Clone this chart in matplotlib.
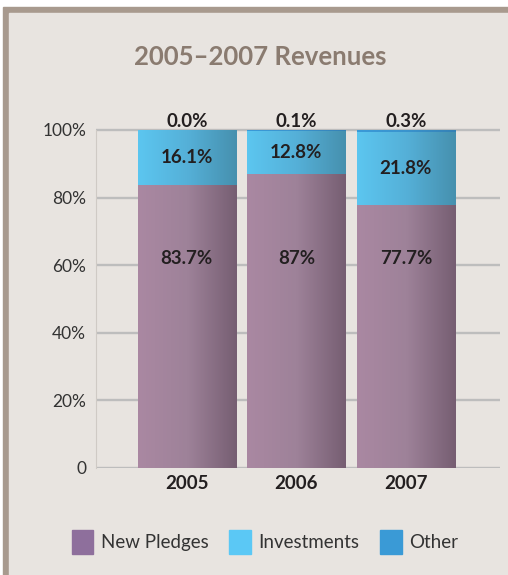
import numpy as np
import matplotlib
matplotlib.use('Agg')
import matplotlib.pyplot as plt
from matplotlib.colors import LinearSegmentedColormap
from matplotlib.patches import Rectangle, Patch

# datos
years = ['2005', '2006', '2007']
new_pledges = [83.7, 87.0, 77.7]
investments = [16.1, 12.8, 21.8]
other = [0.0, 0.1, 0.3]
pledge_labels = ['83.7%', '87%', '77.7%']
invest_labels = ['16.1%', '12.8%', '21.8%']
other_labels = ['0.0%', '0.1%', '0.3%']
yticks = [0, 20, 40, 60, 80, 100]
ytick_labels = ['0', '20%', '40%', '60%', '80%', '100%']

plt.rcParams['font.family'] = ['Lato', 'DejaVu Sans']

bg = '#E8E4E0'
borde = '#A89A8E'
texto = '#231F20'

fig = plt.figure(figsize=(5.08, 5.75), dpi=100)
fig.patch.set_facecolor('white')

# marco
fig.patches.append(Rectangle((3 / 508, 0), 1, 1 - 7 / 575, transform=fig.transFigure,
                             color=borde, zorder=-2))
fig.patches.append(Rectangle((9 / 508, 0), 1, 1 - 13 / 575, transform=fig.transFigure,
                             color=bg, zorder=-1))

ax = fig.add_axes([96 / 508, 1 - 468 / 575, 404 / 508, (468 - 113) / 575])
ax.set_facecolor('none')

# gradientes (claro a la izquierda, oscuro a la derecha)
cmaps = [
    LinearSegmentedColormap.from_list('np', ['#AA88A2', '#9E8299', '#765E72']),
    LinearSegmentedColormap.from_list('inv', ['#5CC6F0', '#55B0D8', '#4690AE']),
    LinearSegmentedColormap.from_list('oth', ['#3A9AD8', '#3A94CE', '#3581B5']),
]
grad = np.linspace(0, 1, 256).reshape(1, -1)
x = np.arange(len(years))
w = 0.9
fs = 13.5

for i in range(len(years)):
    bottom = 0
    for s, vals in enumerate([new_pledges, investments, other]):
        v = vals[i]
        if v > 0:
            ax.imshow(grad, cmap=cmaps[s], aspect='auto', interpolation='bicubic',
                      extent=(x[i] - w / 2, x[i] + w / 2, bottom, bottom + v), zorder=3)
        bottom += v

    ax.text(x[i], 62, pledge_labels[i], ha='center', va='center', fontsize=fs,
            fontweight='bold', color=texto, zorder=5)
    ax.text(x[i], new_pledges[i] + investments[i] / 2, invest_labels[i], ha='center',
            va='center', fontsize=fs, fontweight='bold', color=texto, zorder=5)
    ax.text(x[i], 102.4, other_labels[i], ha='center', va='center', fontsize=fs,
            fontweight='bold', color=texto, zorder=5, clip_on=False)

ax.set_xlim(-0.83, 2.86)
ax.set_ylim(0, 105)

for yv in yticks:
    ax.axhline(yv, color='#BDBDBD', lw=1.7, zorder=1)

ax.set_yticks(yticks)
ax.set_yticklabels(ytick_labels, fontsize=12.5, color='#333333')
ax.set_xticks(x)
ax.set_xticklabels(years, fontsize=fs, fontweight='bold', color=texto)
ax.tick_params(length=0)
ax.tick_params(axis='y', pad=7)
ax.tick_params(axis='x', pad=5)

for side in ['top', 'right', 'bottom']:
    ax.spines[side].set_visible(False)
ax.spines['left'].set_color('#CFCAC5')
ax.spines['left'].set_linewidth(0.8)
ax.spines['left'].set_bounds(0, 100)

fig.text(260 / 508, 1 - 57 / 575, '2005\u20132007 Revenues', ha='center', va='center',
         fontsize=18.5, fontweight='bold', color='#8A7B70')

handles = [Patch(color='#8E6F9C', label='New Pledges'),
           Patch(color='#5BC8F5', label='Investments'),
           Patch(color='#3A9AD6', label='Other')]
fig.legend(handles=handles, loc='center', bbox_to_anchor=(265 / 508, 1 - 542 / 575),
           ncol=3, frameon=False, fontsize=13.5, handlelength=1.15, handleheight=1.6,
           handletextpad=0.4, columnspacing=1.1, labelcolor='#333333')

fig.savefig('out.png', dpi=100, facecolor=fig.get_facecolor())
